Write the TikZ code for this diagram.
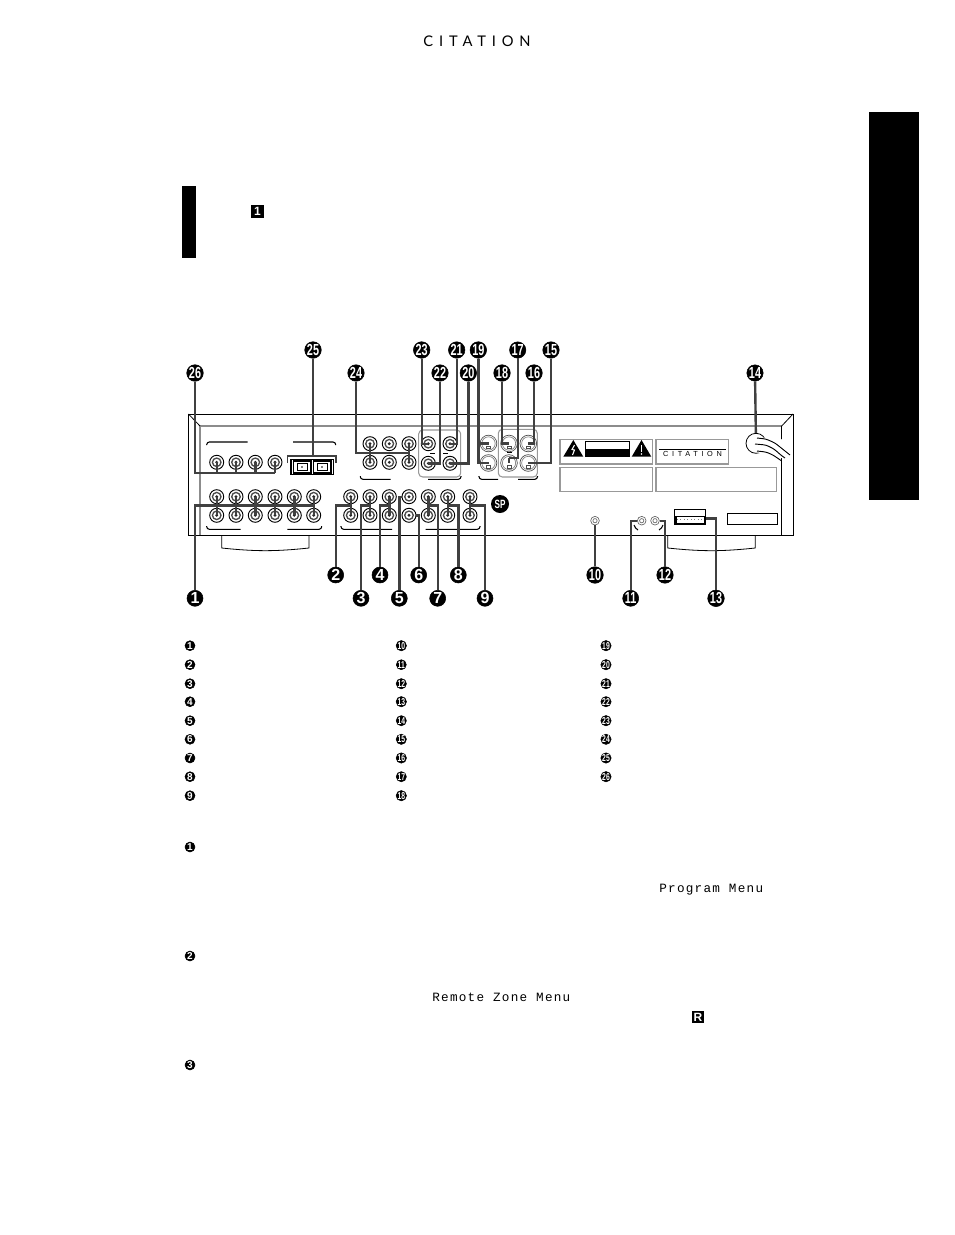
\documentclass[tikz,border=0pt]{standalone}
\usepackage{graphicx}
\usepackage{fontspec}
\setmainfont{Liberation Sans}
\newfontfamily\citfont[LetterSpace=40]{Lato}
\newfontfamily\citsmall[LetterSpace=50]{Liberation Sans}
\newfontfamily\menufont[LetterSpace=10]{Liberation Mono}
\usetikzlibrary{shapes.geometric}
\usetikzlibrary{positioning}
\newcommand{\nn}[1]{\scalebox{0.68}[1]{#1}}
\begin{document}
\begin{tikzpicture}[x=0.75pt,y=-0.75pt,
	bign/.style={draw,circle,fill=black,text=white,inner sep=0pt,minimum size=12pt,font=\bfseries\fontsize{12}{12}\selectfont},
	smln/.style={draw,circle,fill=black,text=white,inner sep=0pt,minimum size=7.5pt,font=\bfseries\fontsize{7.5}{7.5}\selectfont},
	jack/.style={draw,circle,fill=white,inner sep=0pt,minimum size=10.5pt,line width=0.7pt,
		path picture={\draw[line width=1pt,black!70] (path picture bounding box.center) circle (3.2pt);
			\fill[black!85] (path picture bounding box.center) circle (1.2pt);}},
	svid/.style={draw=black!70,circle,fill=white,inner sep=0pt,minimum size=12.5pt,line width=0.5pt,
		path picture={\draw[black!50] (path picture bounding box.center) circle (5pt);
			\fill ([shift={(-2.5pt,1.5pt)}]path picture bounding box.center) circle (0.7pt);
			\fill ([shift={(2.5pt,1.5pt)}]path picture bounding box.center) circle (0.7pt);
			\fill ([shift={(-3pt,-1pt)}]path picture bounding box.center) circle (0.7pt);
			\fill ([shift={(3pt,-1pt)}]path picture bounding box.center) circle (0.7pt);
			\draw[fill=white,line width=0.6pt] ([shift={(-1.5pt,-2pt)}]path picture bounding box.center) rectangle ++(3pt,-2pt);}},
	tiny/.style={draw=black!60,circle,fill=white,inner sep=0pt,minimum size=6.5pt,line width=0.5pt,
		path picture={\draw[black!60] (path picture bounding box.center) circle (1.6pt);}},
	lead/.style={draw=black!75,line width=1.8pt},
	brak/.style={line width=0.8pt,rounded corners=2pt},
	gbox/.style={draw=black!40,line width=0.8pt},
	tagn/.style={fill=black,text=white,inner sep=0pt,minimum size=9.5pt,font=\bfseries\fontsize{9}{9}\selectfont}]
	\useasboundingbox (0,0) rectangle (954,1235);
	% page furniture
	\fill (869,112) rectangle (919,500);
	\fill (182,186) rectangle (196,258);
	\node [font=\citfont\fontsize{11}{11}\selectfont] (head) at (477,41) {CITATION};
	\node [tagn] (tag1) at (257.5,211.5) {1};
	\node [tagn] (tagR) at (698,1017) {R};
	\node [inner sep=0pt,font=\menufont\fontsize{9.5}{9.5}\selectfont,anchor=base west] (menu1) at (659,892) {Program Menu};
	\node [inner sep=0pt,font=\menufont\fontsize{9.5}{9.5}\selectfont,anchor=base west] (menu2) at (432,1001) {Remote Zone Menu};
	% feet
	\draw [line width=0.6pt] (221.7,535)--(221.7,548) to [bend right=6] (309,548)--(309,535);
	\draw [line width=0.6pt] (667.7,535)--(667.7,548) to [bend right=6] (755.3,548)--(755.3,535);
	% chassis
	\draw [line width=0.7pt,fill=white] (188.5,414) rectangle (793,535);
	\draw [black!45,line width=1.2pt] (200,535)--(200,426)--(781.7,426);
	\draw [line width=0.6pt] (781.7,535)--(781.7,426);
	\draw [line width=0.6pt] (188.5,414)--(200,426);
	\draw [line width=0.6pt] (793,414)--(781.7,426);
	% brackets
	\draw [brak] (206.7,445)--(206.7,442)--(247.7,442);
	\draw [brak] (293,442)--(335.7,442)--(335.7,445);
	\draw [brak] (206.7,526)--(206.7,529.3)--(240.7,529.3);
	\draw [brak] (287.3,529.3)--(321.7,529.3)--(321.7,526);
	\draw [brak] (341,526)--(341,529.3)--(392,529.3);
	\draw [brak] (425.7,529.3)--(480,529.3)--(480,526);
	\draw [brak] (360.3,476)--(360.3,479.3)--(390.7,479.3);
	\draw [brak] (428,479.3)--(461,479.3)--(461,476);
	\draw [brak] (479,476)--(479,479.3)--(498,479.3);
	\draw [brak] (518,479.3)--(537.5,479.3)--(537.5,476);
	% grey boxes
	\draw [gbox,rounded corners=3pt] (418.7,430) rectangle (460.7,477);
	\draw [gbox,rounded corners=3pt] (498.3,429.3) rectangle (537.3,477);
	\draw [line width=0.7pt] (430,453)--(435,453);
	\draw [line width=0.7pt] (443,453)--(448,453);
	\draw [line width=0.7pt] (507,452.8)--(512,452.8);
	% jacks
	\node [jack] (a1) at (216.7,462.3) {};
	\node [jack] (a2) at (236,462.3) {};
	\node [jack] (a3) at (255.3,462.3) {};
	\node [jack] (a4) at (275,462.3) {};
	\node [jack] (b1) at (216.7,496.7) {};
	\node [jack] (b2) at (236,496.7) {};
	\node [jack] (b3) at (255.3,496.7) {};
	\node [jack] (b4) at (275,496.7) {};
	\node [jack] (b5) at (294.3,496.7) {};
	\node [jack] (b6) at (313.7,496.7) {};
	\node [jack] (d1) at (216.7,515.3) {};
	\node [jack] (d2) at (236,515.3) {};
	\node [jack] (d3) at (255.3,515.3) {};
	\node [jack] (d4) at (275,515.3) {};
	\node [jack] (d5) at (294.3,515.3) {};
	\node [jack] (d6) at (313.7,515.3) {};
	\node [jack] (m1) at (350.7,496.7) {};
	\node [jack] (m2) at (370,496.7) {};
	\node [jack] (m3) at (389.3,496.7) {};
	\node [jack] (m4) at (409,496.7) {};
	\node [jack] (m5) at (428.3,496.7) {};
	\node [jack] (m6) at (447.7,496.7) {};
	\node [jack] (m7) at (470,496.7) {};
	\node [jack] (l1) at (350.7,515.3) {};
	\node [jack] (l2) at (370,515.3) {};
	\node [jack] (l3) at (389.3,515.3) {};
	\node [jack] (l4) at (409,515.3) {};
	\node [jack] (l5) at (428.3,515.3) {};
	\node [jack] (l6) at (447.7,515.3) {};
	\node [jack] (l7) at (470,515.3) {};
	\node [jack] (t1) at (370,443.7) {};
	\node [jack] (t2) at (389.3,443.7) {};
	\node [jack] (t3) at (409,443.7) {};
	\node [jack] (u1) at (370,462.3) {};
	\node [jack] (u2) at (389.3,462.3) {};
	\node [jack] (u3) at (409,462.3) {};
	\node [jack] (v1) at (428.3,443.7) {};
	\node [jack] (v2) at (450,443.7) {};
	\node [jack] (v3) at (428.3,463.3) {};
	\node [jack] (v4) at (450,463.3) {};
	\node [svid] (s1) at (488.5,443.5) {};
	\node [svid] (s2) at (509,443.5) {};
	\node [svid] (s3) at (528.3,443.5) {};
	\node [svid] (s4) at (488.5,463) {};
	\node [svid] (s5) at (509,463) {};
	\node [svid] (s6) at (528.3,463) {};
	\node [tiny] (p1) at (595,520.7) {};
	\node [tiny] (p2) at (641.7,520.7) {};
	\node [tiny] (p3) at (655,520.7) {};
	\draw [line width=0.8pt] (634,525) to [bend right=20] (638,530);
	\draw [line width=0.8pt] (663,525) to [bend left=20] (659,530);
	% csa mark
	\node [circle,fill=black,text=white,inner sep=0pt,minimum size=13.5pt,font=\bfseries\fontsize{9}{9}\selectfont] (csa) at (500,504) {\nn{SP}};
	% optical
	\draw [line width=0.9pt] (291,459.3) rectangle (333.3,474.7);
	\draw [line width=0.9pt] (293.5,461) rectangle (311,473);
	\draw [line width=0.9pt] (313.5,461) rectangle (331,473);
	\draw [line width=0.6pt] (297,463.5) rectangle (307.5,470.5);
	\draw [line width=0.6pt] (317,463.5) rectangle (327.5,470.5);
	\fill (302,467) circle (0.7pt);
	\fill (322,467) circle (0.7pt);
	% rear labels
	\draw [gbox] (560,439.3) rectangle (652.7,464);
	\draw [gbox] (656,439.3) rectangle (728.3,464);
	\draw [gbox] (560,467.3) rectangle (652.7,491.7);
	\draw [gbox] (656,467.3) rectangle (776.7,491.7);
	\fill (563.3,456.7)--(573.3,440)--(583.3,456.7)--cycle;
	\fill (631.7,456.7)--(641.5,440)--(651.3,456.7)--cycle;
	\draw [white,line width=0.8pt] (574.5,445)--(572,449.5)--(574.5,450)--(572.5,455);
	\draw [white,line width=1.1pt] (641.5,445)--(641.5,451.5);
	\fill [white] (641.5,454) circle (0.7pt);
	\draw [line width=0.6pt,fill=white] (585.3,441.7) rectangle (629.7,456.7);
	\fill (585.3,449.3) rectangle (629.7,456.7);
	\draw [line width=0.6pt] (659,449.3)--(725.7,449.3);
	\node [font=\citsmall\fontsize{5.5}{5.5}\selectfont] (brand) at (692.5,454) {CITATION};
	% socket
	\draw [line width=0.8pt] (674.7,509.3) rectangle (705.7,524.7);
	\fill (674.7,515.5) rectangle (705.7,524.7);
	\fill [white] (676.5,517) rectangle (704,522.5);
	\draw [black!50,dotted,line width=0.6pt] (677,519.7)--(703,519.7);
	\draw [line width=0.7pt] (727.3,513.3) rectangle (777.3,524.3);
	% cord
	\node [draw,circle,fill=white,inner sep=0pt,minimum size=15pt,line width=0.6pt] (plug) at (756,443.3) {};
	\fill [white] (756,437)--(790,440)--(790,460)--(756,452)--cycle;
	\draw [line width=0.7pt,rounded corners=2pt] (757,438)--(766,439)--(775,443)--(785,451)--(790,455);
	\draw [line width=0.7pt,rounded corners=2pt] (755,444)--(766,445)--(774,449)--(782,456)--(785,458);
	\draw [line width=0.7pt,rounded corners=2pt] (757,451)--(766,452)--(773,455)--(781.7,461);
	% callouts
	\node [bign] (c1) at (195,598.3) {1};
	\node [bign] (c2) at (335.7,575) {2};
	\node [bign] (c3) at (361,598.3) {3};
	\node [bign] (c4) at (380,575) {4};
	\node [bign] (c5) at (399.3,598.3) {5};
	\node [bign] (c6) at (418.7,575) {6};
	\node [bign] (c7) at (437.7,598.3) {7};
	\node [bign] (c8) at (458.3,575) {8};
	\node [bign] (c9) at (485,598.3) {9};
	\node [bign] (c10) at (595,575) {\nn{10}};
	\node [bign] (c11) at (630.7,598.3) {\nn{11}};
	\node [bign] (c12) at (665,575) {\nn{12}};
	\node [bign] (c13) at (716,598.3) {\nn{13}};
	\node [bign] (c14) at (755,373) {\nn{14}};
	\node [bign] (c15) at (551,350) {\nn{15}};
	\node [bign] (c16) at (534,373) {\nn{16}};
	\node [bign] (c17) at (517.7,350) {\nn{17}};
	\node [bign] (c18) at (502,373) {\nn{18}};
	\node [bign] (c19) at (478.3,350) {\nn{19}};
	\node [bign] (c20) at (468.3,373) {\nn{20}};
	\node [bign] (c21) at (456.7,350) {\nn{21}};
	\node [bign] (c22) at (440,373) {\nn{22}};
	\node [bign] (c23) at (421.7,350) {\nn{23}};
	\node [bign] (c24) at (356,373) {\nn{24}};
	\node [bign] (c25) at (313,350) {\nn{25}};
	\node [bign] (c26) at (195,373) {\nn{26}};
	% bends of the leaders
	\coordinate (e1) at (313.7,505.3);
	\coordinate (e2) at (350.7,505.3);
	\coordinate (e3) at (370,505.3);
	\coordinate (e4) at (389.3,505.3);
	\coordinate (e7) at (428.3,505.3);
	\coordinate (e8) at (447.7,505.3);
	\coordinate (e9) at (470,505.3);
	\coordinate (e13) at (706,518.3);
	\coordinate (e17) at (509,458);
	\coordinate (e19) at (478.3,443.5);
	\coordinate (e24) at (409,452.7);
	\coordinate (e25) at (313,456);
	\coordinate (e26) at (275,472.7);
	\coordinate (o1) at (287.3,463);
	\coordinate (o2) at (336,463);
	\coordinate (f1) at (216.7,472.7);
	\coordinate (f2) at (236,472.7);
	\coordinate (f3) at (255.3,472.7);
	% leaders
	\draw [lead] (b1.center)--(d1.center);
	\draw [lead] (b2.center)--(d2.center);
	\draw [lead] (b3.center)--(d3.center);
	\draw [lead] (b4.center)--(d4.center);
	\draw [lead] (b5.center)--(d5.center);
	\draw [lead] (b6.center)--(d6.center);
	\draw [lead] (c1) |- (e1);
	\draw [lead] (m1.center)--(l1.center);
	\draw [lead] (c2) |- (e2);
	\draw [lead] (m2.center)--(l2.center);
	\draw [lead] (c3) |- (e3);
	\draw [lead] (m3.center)--(l3.center);
	\draw [lead] (c4) |- (e4);
	\draw [lead] (c5) |- (m4.west);
	\draw [lead] (c6) |- (l4.east);
	\draw [lead] (m5.center)--(l5.center);
	\draw [lead] (c7) |- (e7);
	\draw [lead] (m6.center)--(l6.center);
	\draw [lead] (c8) |- (e8);
	\draw [lead] (m7.center)--(l7.center);
	\draw [lead] (c9) |- (e9);
	\draw [lead] (c10)--(p1);
	\draw [lead] (c11) |- (p2.west);
	\draw [lead] (c12) |- (p3.east);
	\draw [lead] (c13) |- (e13);
	\draw [lead] (c14)--(plug);
	\draw [lead] (c15) |- (s6.center);
	\draw [lead] (c16) |- (s3.center);
	\draw [lead] (c17) |- (e17);
	\draw [lead] (e17)--(s5.center);
	\draw [lead] (c18) |- (s2.center);
	\draw [lead] (c19) |- (s4.center);
	\draw [lead] (e19)--(s1.center);
	\draw [lead] (c20) |- (v4.center);
	\draw [lead] (c21) |- (v2.center);
	\draw [lead] (c22) |- (v3.center);
	\draw [lead] (c23) |- (v1.center);
	\draw [lead] (t1.center)--(u1.center);
	\draw [lead] (t3.center)--(u3.center);
	\draw [lead] (c24) |- (e24);
	\draw [lead] (c25)--(e25);
	\draw [lead,line width=1.2pt] (o1) |- (e25) -| (o2);
	\draw [lead] (a1.center)--(f1);
	\draw [lead] (a2.center)--(f2);
	\draw [lead] (a3.center)--(f3);
	\draw [lead] (a4.center)--(e26);
	\draw [lead] (c26) |- (e26);
	% key
	\node [smln] (k1) at (190,645.7) {1};
	\node [smln] (k2) at (190,664.7) {2};
	\node [smln] (k3) at (190,683.7) {3};
	\node [smln] (k4) at (190,701.7) {4};
	\node [smln] (k5) at (190,720.7) {5};
	\node [smln] (k6) at (190,739.3) {6};
	\node [smln] (k7) at (190,758) {7};
	\node [smln] (k8) at (190,776.7) {8};
	\node [smln] (k9) at (190,795.7) {9};
	\node [smln] (k10) at (401.3,645.7) {\nn{10}};
	\node [smln] (k11) at (401.3,664.7) {\nn{11}};
	\node [smln] (k12) at (401.3,683.7) {\nn{12}};
	\node [smln] (k13) at (401.3,701.7) {\nn{13}};
	\node [smln] (k14) at (401.3,720.7) {\nn{14}};
	\node [smln] (k15) at (401.3,739.3) {\nn{15}};
	\node [smln] (k16) at (401.3,758) {\nn{16}};
	\node [smln] (k17) at (401.3,776.7) {\nn{17}};
	\node [smln] (k18) at (401.3,795.7) {\nn{18}};
	\node [smln] (k19) at (606,645.7) {\nn{19}};
	\node [smln] (k20) at (606,664.7) {\nn{20}};
	\node [smln] (k21) at (606,683.7) {\nn{21}};
	\node [smln] (k22) at (606,701.7) {\nn{22}};
	\node [smln] (k23) at (606,720.7) {\nn{23}};
	\node [smln] (k24) at (606,739.3) {\nn{24}};
	\node [smln] (k25) at (606,758) {\nn{25}};
	\node [smln] (k26) at (606,776.7) {\nn{26}};
	% text marks
	\node [smln] (q1) at (190,847) {1};
	\node [smln] (q2) at (190,956) {2};
	\node [smln] (q3) at (190,1065) {3};
\end{tikzpicture}
\end{document}
